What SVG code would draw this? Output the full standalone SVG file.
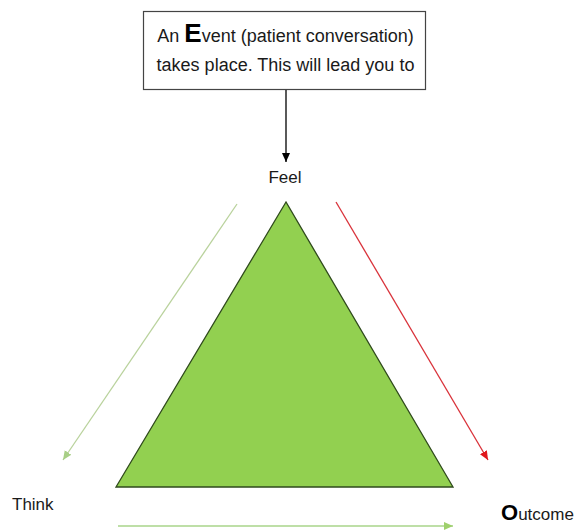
<svg xmlns="http://www.w3.org/2000/svg" width="581" height="531" viewBox="0 0 581 531">
  <style>
    .t { font-family: "Liberation Sans", Arial, sans-serif; font-size: 17px; fill: #1a1a1a; }
    .box { font-size: 18px; }
    .big { font-weight: bold; fill: #000; }
    .conn { fill: none; stroke-width: 1.3; }
  </style>
  <defs>
    <marker id="ahBlack" markerUnits="userSpaceOnUse" markerWidth="10" markerHeight="10" viewBox="0 0 10 10" refX="9" refY="5" orient="auto">
      <path d="M0,1 L9,5 L0,9 Z" fill="#000"/>
    </marker>
    <marker id="ahRed" markerUnits="userSpaceOnUse" markerWidth="10" markerHeight="10" viewBox="0 0 10 10" refX="9" refY="5" orient="auto">
      <path d="M0,1 L9,5 L0,9 Z" fill="#e0161c"/>
    </marker>
    <marker id="ahGreen" markerUnits="userSpaceOnUse" markerWidth="10" markerHeight="10" viewBox="0 0 10 10" refX="9" refY="5" orient="auto">
      <path d="M0,1 L9,5 L0,9 Z" fill="#a8cf86"/>
    </marker>
    <marker id="ahGreen2" markerUnits="userSpaceOnUse" markerWidth="10" markerHeight="10" viewBox="0 0 10 10" refX="9" refY="5" orient="auto">
      <path d="M0,1 L9,5 L0,9 Z" fill="#9fd06c"/>
    </marker>
  </defs>
  <rect width="581" height="531" fill="#fff"/>

  <g id="event">
    <rect x="143.5" y="11.5" width="282" height="78" fill="#fff" stroke="#444" stroke-width="1.2"/>
    <text class="t box" x="285.5" y="42" text-anchor="middle">An <tspan class="big" font-size="26">E</tspan>vent (patient conversation)</text>
    <text class="t box" x="285.5" y="71" text-anchor="middle">takes place. This will lead you to</text>
  </g>

  <g id="triangle">
    <polygon points="286,202 116,487 453,487" fill="#92d050" stroke="#2f4a1c" stroke-width="1.3" stroke-linejoin="miter"/>
  </g>

  <g id="feel">
    <text class="t" x="285" y="183" text-anchor="middle">Feel</text>
  </g>

  <g id="think">
    <text class="t" x="12" y="510">Think</text>
  </g>

  <g id="outcome">
    <text class="t" x="501" y="520"><tspan class="big" font-size="22">O</tspan>utcome</text>
  </g>

  <g id="connectors">
    <line class="conn" x1="286" y1="90" x2="286" y2="162" stroke="#000" marker-end="url(#ahBlack)"/>
    <line class="conn" x1="237" y1="204" x2="63" y2="460" stroke="#b9d29c" marker-end="url(#ahGreen)"/>
    <line class="conn" x1="336" y1="202" x2="488" y2="460" stroke="#d9323a" marker-end="url(#ahRed)"/>
    <line class="conn" x1="118" y1="526" x2="453" y2="526" stroke="#a9d48a" marker-end="url(#ahGreen2)"/>
  </g>
</svg>
